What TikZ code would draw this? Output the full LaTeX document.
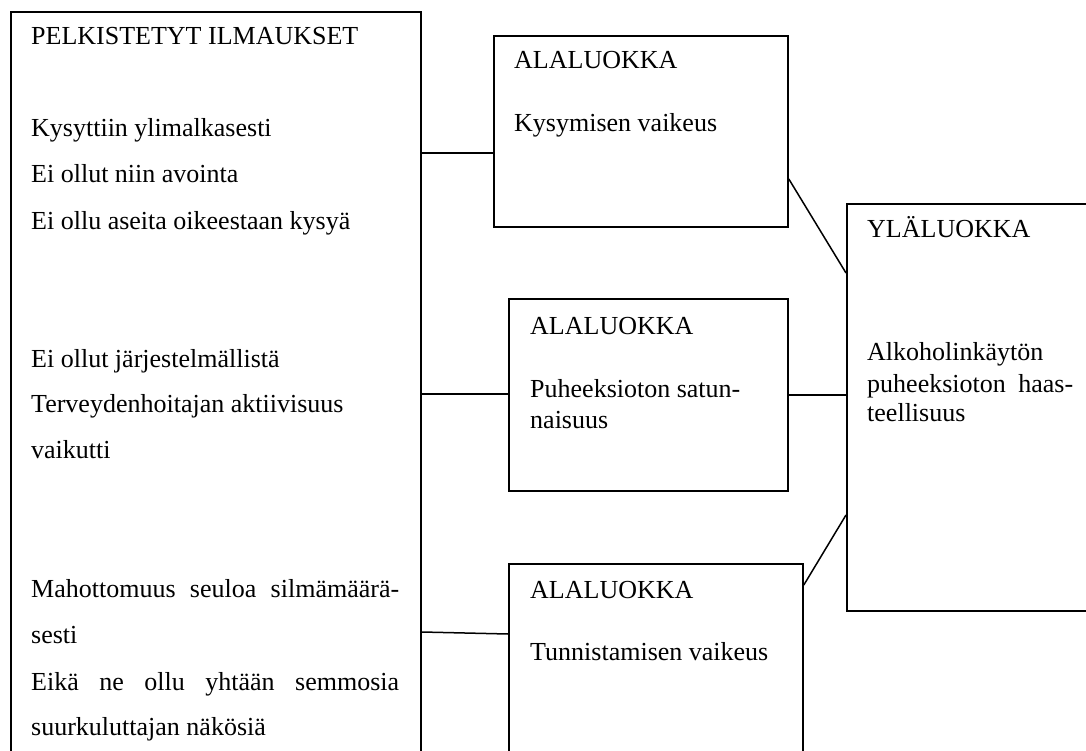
\documentclass[tikz,border=0pt]{standalone}
\usepackage{fontspec}
\setmainfont{Liberation Serif}
\begin{document}
\begin{tikzpicture}[x=1pt,y=-1pt,
  box/.style={draw, line width=1.8pt, rectangle, inner sep=0pt, anchor=north west},
  txt/.style={anchor=base west, inner sep=0pt, font=\fontsize{26}{30}\selectfont},
  link/.style={line width=1.5pt}]
\useasboundingbox (0,0) rectangle (1086,751);
\clip (0,0) rectangle (1086,751);
% boxes
\node[box, minimum width=410pt, minimum height=780pt] (L) at (10,11) {};
\node[box, minimum width=294pt, minimum height=191pt] (A1) at (493,35) {};
\node[box, minimum width=279pt, minimum height=192pt] (A2) at (508,298) {};
\node[box, minimum width=294pt, minimum height=250pt] (A3) at (508,563) {};
\node[box, minimum width=300pt, minimum height=407pt] (Y) at (846,203) {};
% left texts
\node[txt] (l0) at (31,45) {PELKISTETYT ILMAUKSET};
\node[txt] (l1) at (31,137) {Kysyttiin ylimalkasesti};
\node[txt] (l2) at (31,183) {Ei ollut niin avointa};
\node[txt] (l3) at (31,230) {Ei ollu aseita oikeestaan kysyä};
\node[txt] (l4) at (31,367) {Ei ollut järjestelmällistä};
\node[txt] (l5) at (31,412) {Terveydenhoitajan aktiivisuus};
\node[txt] (l6) at (31,458) {vaikutti};
\node[txt] (l7) at (31,597) {\makebox[368pt][s]{Mahottomuus seuloa silmämäärä-}};
\node[txt] (l8) at (31,643) {sesti};
\node[txt] (l9) at (31,690) {\makebox[368pt][s]{Eikä ne ollu yhtään semmosia}};
\node[txt] (l10) at (31,735) {suurkuluttajan näkösiä};
% sub-category texts
\node[txt] (a1h) at (514,69) {ALALUOKKA};
\node[txt] (a1t) at (514,132) {Kysymisen vaikeus};
\node[txt] (a2h) at (530,334) {ALALUOKKA};
\node[txt] (a2t) at (530,397) {Puheeksioton satun-};
\node[txt] (a2u) at (530,428) {naisuus};
\node[txt] (a3h) at (530,598) {ALALUOKKA};
\node[txt] (a3t) at (530,660) {Tunnistamisen vaikeus};
% upper category texts
\node[txt] (yh) at (867,238) {YLÄLUOKKA};
\node[txt] (yt1) at (867,360) {Alkoholinkäytön};
\node[txt] (yt2) at (867,392) {\makebox[206pt][s]{puheeksioton haas-}};
\node[txt] (yt3) at (867,421) {teellisuus};
% connectors
\coordinate (k1) at (0,153);
\coordinate (k2a) at (0,179);
\coordinate (k2b) at (0,273);
\coordinate (k3) at (0,394);
\coordinate (k4) at (0,395);
\coordinate (k5a) at (0,632);
\coordinate (k5b) at (0,634);
\coordinate (k6a) at (0,585);
\coordinate (k6b) at (0,515);
\draw[link] (L.east |- k1) -- (A1.west |- k1);
\draw[link] (A1.east |- k2a) -- (Y.west |- k2b);
\draw[link] (L.east |- k3) -- (A2.west |- k3);
\draw[link] (A2.east |- k4) -- (Y.west |- k4);
\draw[link] (L.east |- k5a) -- (A3.west |- k5b);
\draw[link] (A3.east |- k6a) -- (Y.west |- k6b);
\end{tikzpicture}
\end{document}
